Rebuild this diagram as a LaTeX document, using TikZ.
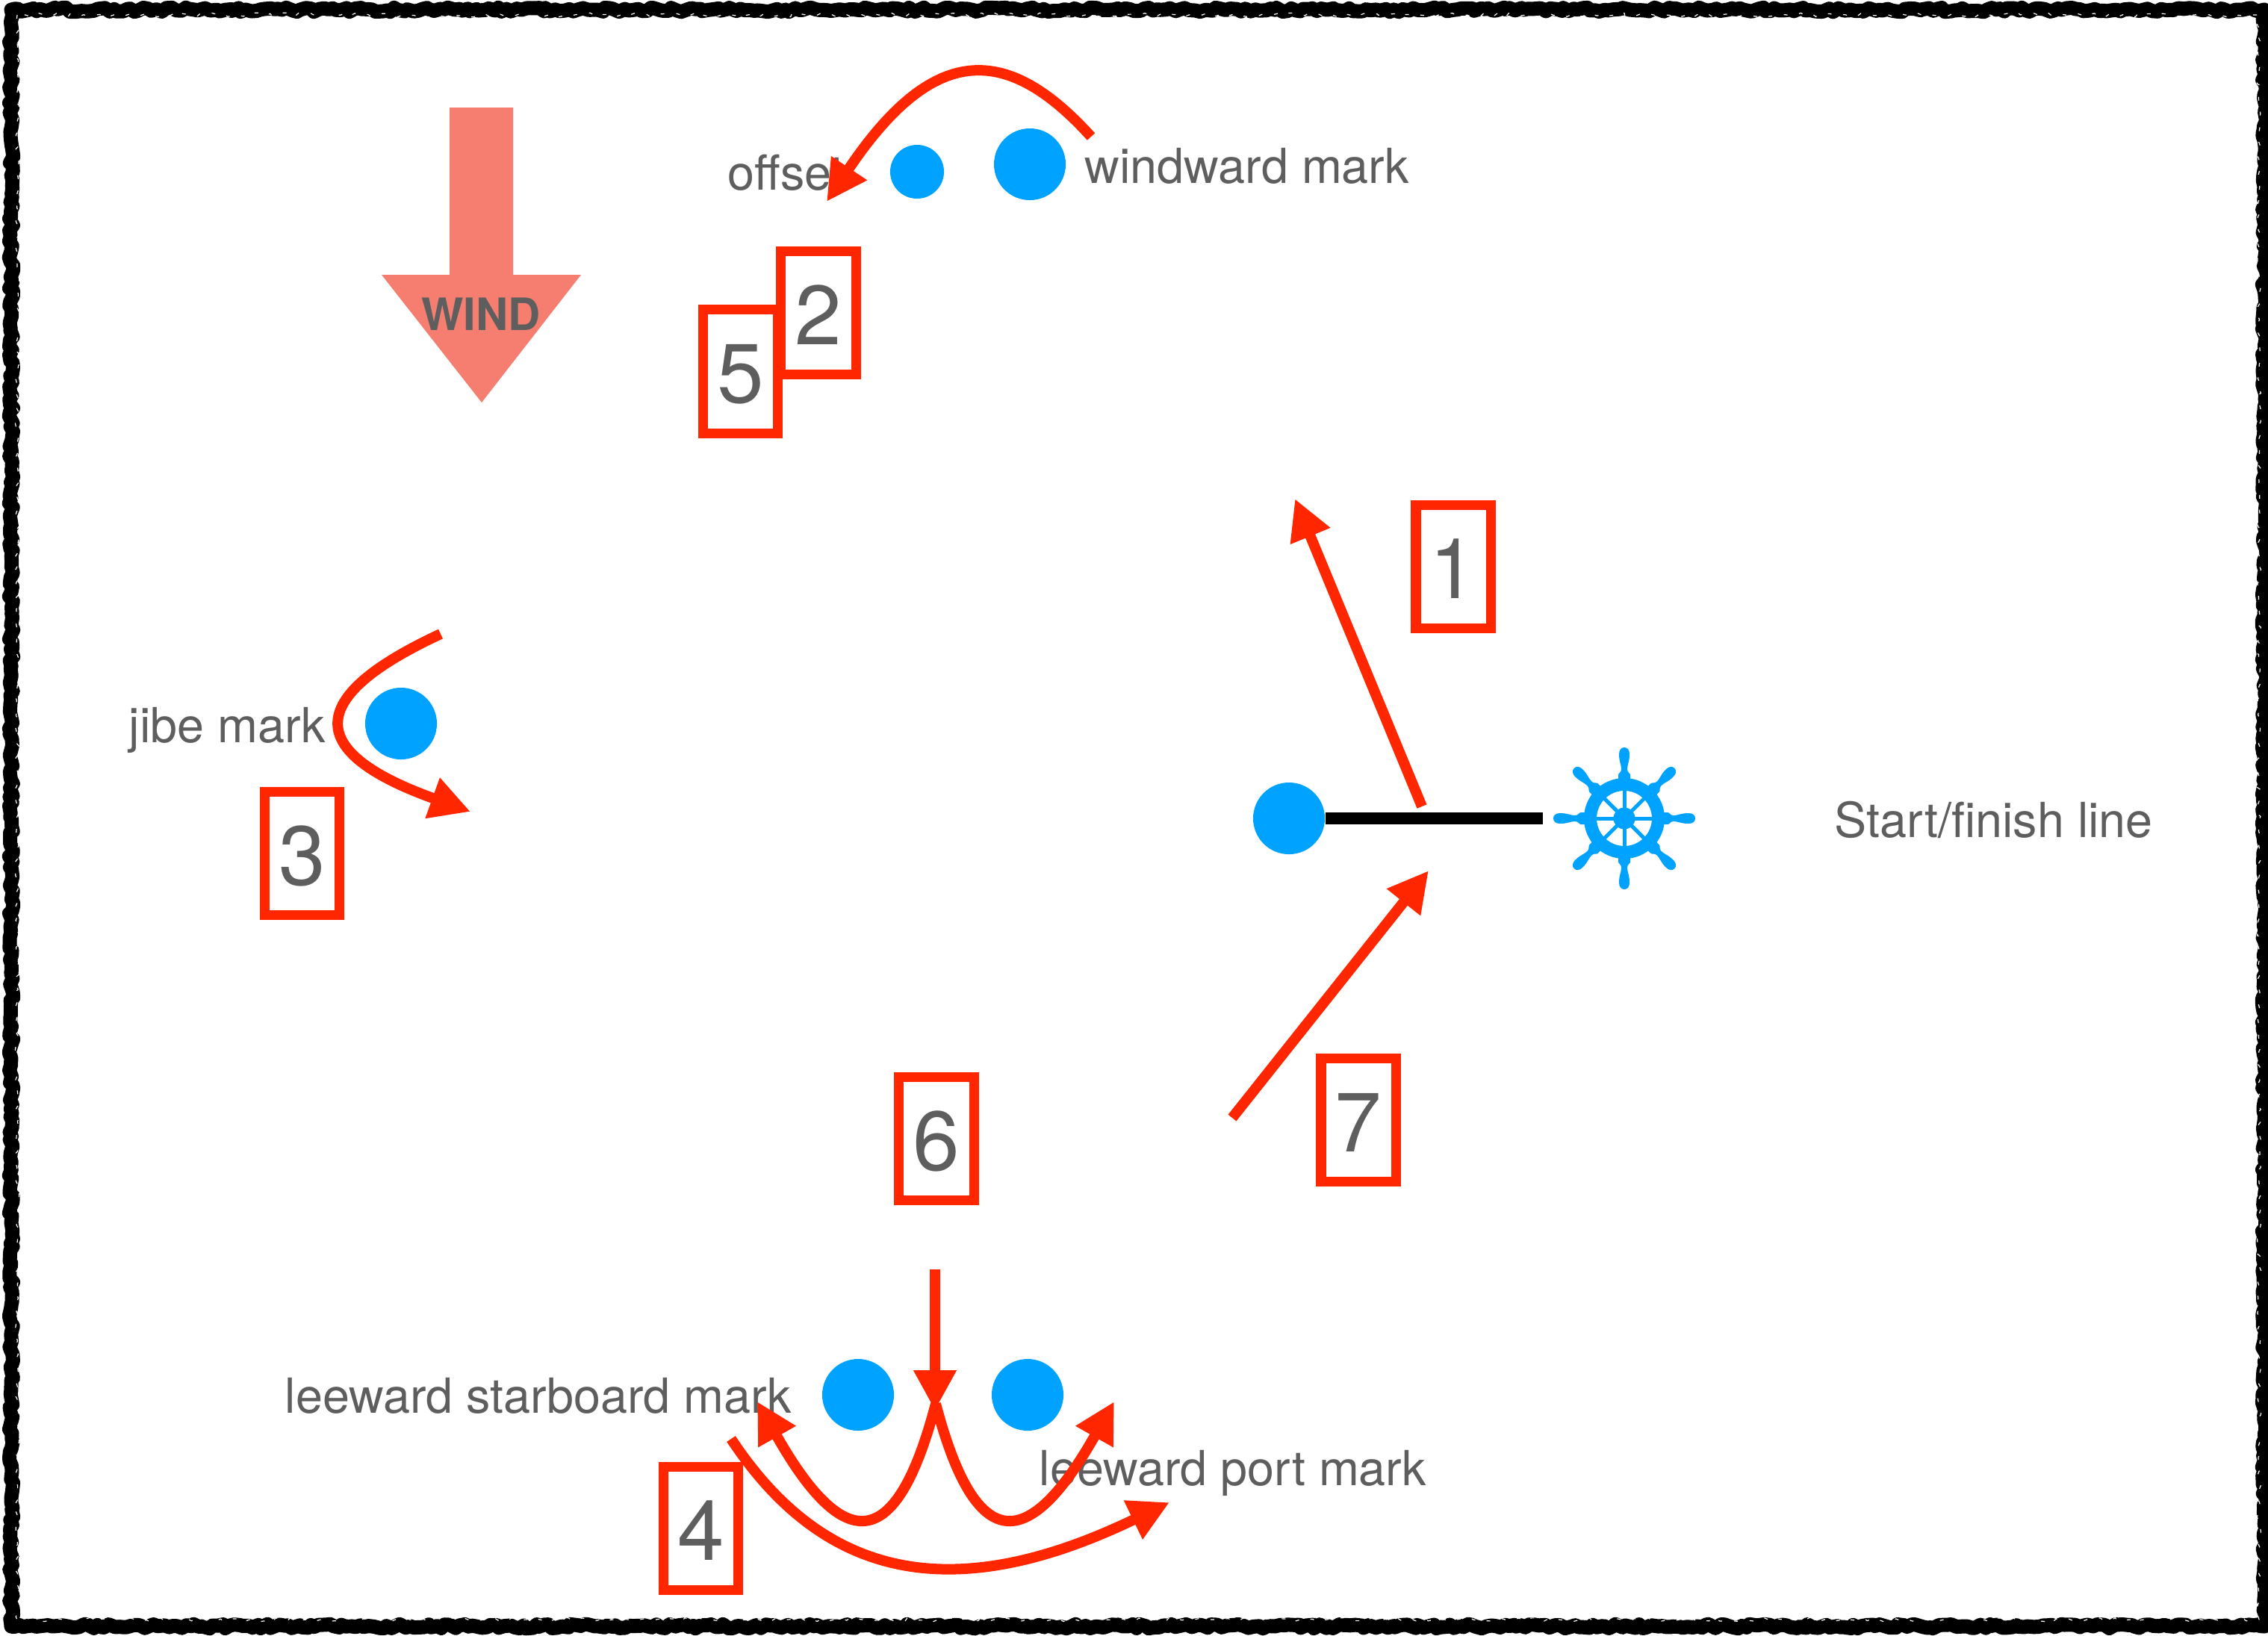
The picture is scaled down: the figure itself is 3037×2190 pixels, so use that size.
\documentclass[tikz,border=0pt]{standalone}
\usepackage{fontspec}
\setmainfont{TeX Gyre Heros}
\usepackage{xcolor}
\definecolor{buoyblue}{RGB}{0, 162, 255}
\definecolor{legred}{RGB}{255, 38, 0}
\definecolor{windsalmon}{RGB}{246, 126, 112}
\definecolor{textgrey}{RGB}{94, 94, 94}
\usepackage{tikz}
\usetikzlibrary{arrows.meta, positioning, decorations.pathmorphing}
\tikzstyle{buoy} = [circle, fill=buoyblue, inner sep=0pt, minimum size=0.96cm]
\tikzstyle{buoysmall} = [buoy, minimum size=0.72cm]
\tikzstyle{stepbox} = [rectangle, draw=legred, line width=0.13cm, text=textgrey, inner sep=0pt, minimum width=1cm, minimum height=1.65cm, text height=0.84cm, text depth=0pt, font=\fontsize{32pt}{36pt}\selectfont]
\tikzstyle{marktext} = [text=textgrey, inner sep=0pt, anchor=base west, font=\fontsize{18.4pt}{22pt}\selectfont]
\tikzstyle{arrow} = [draw=legred, line width=0.14cm, -{Triangle[length=0.54cm, width=0.54cm]}]
\tikzstyle{roughedge} = [decorate, line join=round, decoration={random steps, segment length=0.06cm, amplitude=0.028cm}]

\begin{document}
\begin{tikzpicture}[x=0.01cm, y=-0.01cm]
    \pgfmathsetseed{4242}
    \path[use as bounding box, fill=white] (0,0) rectangle (3037,2190);

    % frame
    \draw[roughedge, line width=0.19cm] (15,13) rectangle (3032,2178);
    \draw[roughedge, white, line width=0.012cm, dash pattern=on 0.05cm off 0.16cm] (23,20) rectangle (3025,2169);

    % wind
    \fill[windsalmon] (602,144) -- (687,144) -- (687,368) -- (778,368) -- (645,539) -- (511,368) -- (602,368) -- cycle;
    \node[marktext, anchor=base, font=\fontsize{17pt}{20pt}\selectfont\bfseries] (wind) at (644,442) {WIND};

    % marks and their names
    \node[buoy] (windward) at (1379,220) {};
    \node[buoysmall] (offset) at (1228,230) {};
    \node[buoy] (jibe) at (537,969) {};
    \node[buoy] (pin) at (1726,1096) {};
    \node[buoy] (starboard) at (1149,1868) {};
    \node[buoy] (port) at (1376,1868) {};
    \node[marktext] (windwardtext) at (1452,245) {windward mark};
    \node[marktext] (offsettext) at (974,254) {offset};
    \node[marktext] (jibetext) at (172,994) {jibe mark};
    \node[marktext] (linetext) at (2456,1121) {Start/finish line};
    \node[marktext] (starboardtext) at (381,1892) {leeward starboard mark};
    \node[marktext] (porttext) at (1391,1989) {leeward port mark};

    % start/finish line
    \coordinate (lineend) at (2066,1096);
    \coordinate (wheel) at (2175,1096);
    \draw[line width=0.16cm] (pin) -- (lineend);
    \begin{scope}[shift={(wheel)}, buoyblue]
        \draw[line width=0.17cm] (0,0) circle (45.5);
        \fill (0,0) circle (14.5);
        \foreach \ang in {0,45,...,315} {
            \draw[rotate=\ang, line width=0.05cm] (0,0) -- (45,0);
            \fill[rotate=\ang] (50,-8) -- (58,-8) .. controls (61,-8) and (61,-4) .. (66,-4) .. controls (72,-4) and (76,-7) .. (86,-7) .. controls (92,-7) and (95,-4) .. (95,0) .. controls (95,4) and (92,7) .. (86,7) .. controls (76,7) and (72,4) .. (66,4) .. controls (61,4) and (61,8) .. (58,8) -- (50,8) -- cycle;
        }
    \end{scope}

    % numbered legs
    \node[stepbox] (one) at (1946,759) {1};
    \node[stepbox] (two) at (1096,419) {2};
    \node[stepbox] (three) at (404.5,1143) {3};
    \node[stepbox] (four) at (938.5,2047) {4};
    \node[stepbox] (five) at (991.5,497.5) {5};
    \node[stepbox] (six) at (1254,1525) {6};
    \node[stepbox] (seven) at (1819,1500) {7};

    \coordinate (legoneA) at (1904,1080);
    \coordinate (legoneB) at (1734,668);
    \coordinate (legtwoA) at (1461,183);
    \coordinate (legtwoB) at (1107,270);
    \coordinate (legthreeA) at (590,849);
    \coordinate (legthreeB) at (630,1087);
    \coordinate (legfourA) at (979,1927);
    \coordinate (legfourB) at (1566,2012);
    \coordinate (legsixA) at (1252,1700);
    \coordinate (legsixB) at (1252,1889);
    \coordinate (turn) at (1253,1880);
    \coordinate (turnleft) at (1014,1877);
    \coordinate (turnright) at (1492,1877);
    \coordinate (legsevenA) at (1650,1497);
    \coordinate (legsevenB) at (1913,1166);

    \draw[arrow] (legoneA) -- (legoneB);
    \draw[arrow] (legtwoA) .. controls (1346,56) and (1248,60) .. (legtwoB);
    \draw[arrow] (legthreeA) .. controls (405,935) and (410,1008) .. (legthreeB);
    \draw[arrow] (legfourA) .. controls (1100,2110) and (1270,2155) .. (legfourB);
    \draw[arrow] (legsixA) -- (legsixB);
    \draw[arrow] (turn) .. controls (1200,2082) and (1130,2082) .. (turnleft);
    \draw[arrow] (turn) .. controls (1306,2082) and (1376,2082) .. (turnright);
    \draw[arrow] (legsevenA) -- (legsevenB);
\end{tikzpicture}
\end{document}
